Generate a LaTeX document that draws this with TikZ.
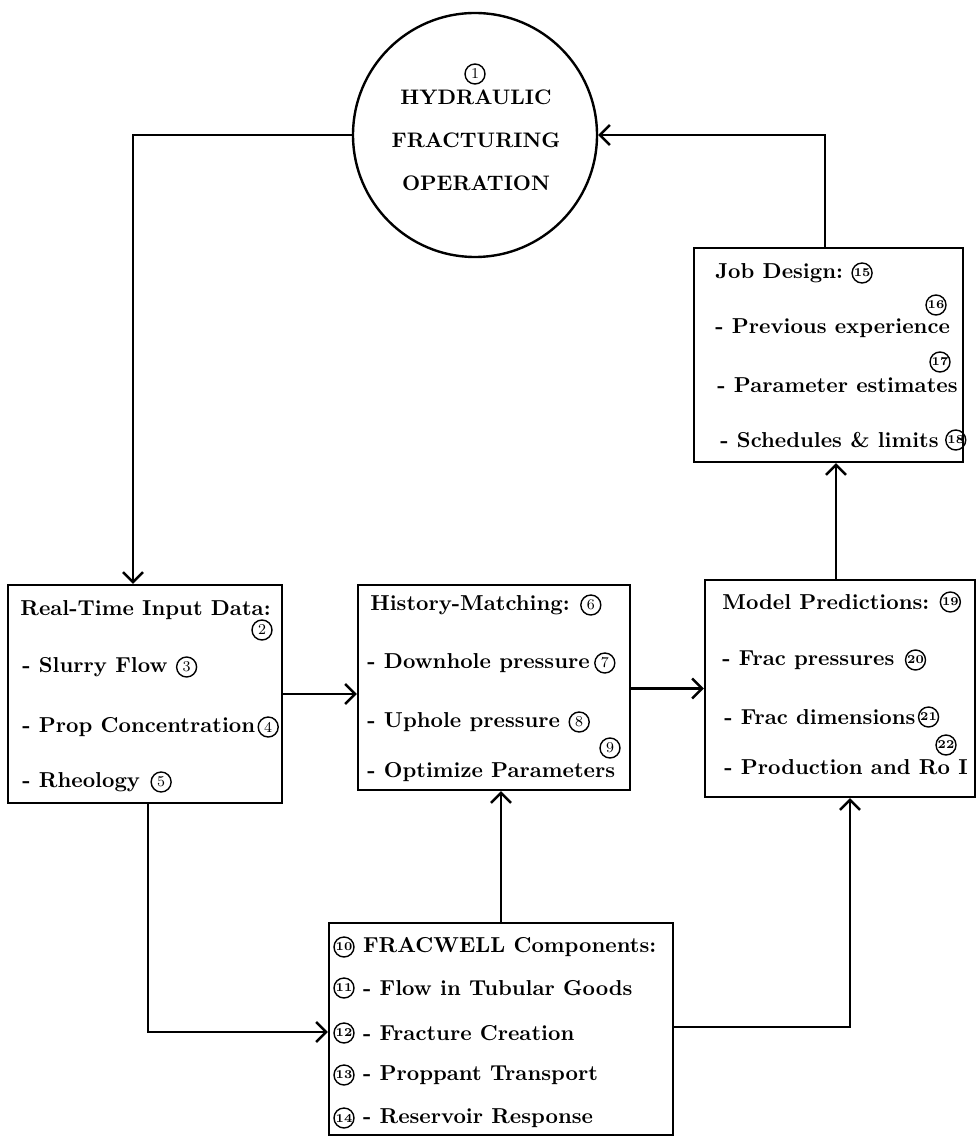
\documentclass[tikz,border=0pt]{standalone}
\usetikzlibrary{positioning,arrows.meta}
\begin{document}
\begin{tikzpicture}[x=0.5pt,y=-0.5pt,>={Straight Barb[length=5pt,width=10pt]},
	box/.style={draw,line width=1.2pt,inner sep=0pt},
	txt/.style={anchor=west,inner sep=0pt,font=\fontsize{10.8}{13}\selectfont\bfseries},
	ctr/.style={inner sep=0pt,font=\fontsize{10.5}{13}\selectfont\bfseries},
	num/.style={circle,draw,line width=0.7pt,inner sep=0pt,minimum size=10pt,font=\fontsize{7.5}{8}\selectfont},
	numb/.style={num,font=\fontsize{6}{6}\selectfont\bfseries},
	link/.style={->,line width=1.2pt}
	]
	\useasboundingbox (0,0) rectangle (979,1138);

	\node[circle,draw,line width=1.2pt,inner sep=0pt,minimum size=122pt] (op) at (475,135) {};
	\node[box,minimum width=137pt,minimum height=109pt] (rt) at (145,694) {};
	\node[box,minimum width=136pt,minimum height=102.5pt] (hm) at (494,687.5) {};
	\node[box,minimum width=135pt,minimum height=108.5pt] (mp) at (840,688.5) {};
	\node[box,minimum width=134.5pt,minimum height=107pt] (jd) at (828.5,355) {};
	\node[box,minimum width=172pt,minimum height=106pt] (fw) at (501,1029) {};

	% operation
	\node[num] (n1) at (475,74) {1};
	\node[ctr] (op1) at (476,97) {HYDRAULIC};
	\node[ctr] (op2) at (476,140) {FRACTURING};
	\node[ctr] (op3) at (476,183) {OPERATION};

	% real-time input data
	\node[txt] (rt0) at (20,610) {Real-Time Input Data:};
	\node[num] (n2) at (262,630) {2};
	\node[txt] (rt1) at (22,667) {- Slurry Flow};
	\node[num,right=4pt of rt1] (n3) {3};
	\node[txt] (rt2) at (22,727) {- Prop Concentration};
	\node[num,right=1pt of rt2] (n4) {4};
	\node[txt] (rt3) at (22,782) {- Rheology};
	\node[num,right=5pt of rt3] (n5) {5};

	% history-matching
	\node[txt] (hm0) at (370,605) {History-Matching:};
	\node[num,right=5pt of hm0] (n6) {6};
	\node[txt] (hm1) at (367,663) {- Downhole pressure};
	\node[num,right=2pt of hm1] (n7) {7};
	\node[txt] (hm2) at (367,722) {- Uphole pressure};
	\node[num,right=4pt of hm2] (n8) {8};
	\node[num] (n9) at (610,748) {9};
	\node[txt] (hm3) at (367,772) {- Optimize Parameters};

	% model predictions
	\node[txt] (mp0) at (722,602) {Model Predictions:};
	\node[numb,right=5pt of mp0] (n19) {19};
	\node[txt] (mp1) at (722,660) {- Frac pressures};
	\node[numb,right=5pt of mp1] (n20) {20};
	\node[txt] (mp2) at (724,717) {- Frac dimensions};
	\node[numb,right=1pt of mp2] (n21) {21};
	\node[numb] (n22) at (946,745) {22};
	\node[txt] (mp3) at (724,767) {- Production and Ro I};

	% job design
	\node[txt] (jd0) at (715,273) {Job Design:};
	\node[numb,right=4pt of jd0] (n15) {15};
	\node[numb] (n16) at (936,305) {16};
	\node[txt] (jd1) at (715,328) {- Previous experience};
	\node[numb] (n17) at (940,362) {17};
	\node[txt] (jd2) at (717,385) {- Parameter estimates};
	\node[txt] (jd3) at (720,440) {- Schedules \& limits};
	\node[numb,right=3pt of jd3] (n18) {18};

	% fracwell components
	\node[numb] (n10) at (344,947) {10};
	\node[txt,right=4pt of n10] (fw0) {FRACWELL Components:};
	\node[numb] (n11) at (344,988) {11};
	\node[txt,right=4pt of n11] (fw1) {- Flow in Tubular Goods};
	\node[numb] (n12) at (344,1033) {12};
	\node[txt,right=4pt of n12] (fw2) {- Fracture Creation};
	\node[numb] (n13) at (344,1075) {13};
	\node[txt,right=4pt of n13] (fw3) {- Proppant Transport};
	\node[numb] (n14) at (344,1118) {14};
	\node[txt,right=4pt of n14] (fw4) {- Reservoir Response};

	\coordinate (c1) at (133,135);
	\coordinate (c2) at (825,135);
	\coordinate (c3) at (836,0);
	\coordinate (c4) at (148,1032);
	\coordinate (c5) at (850,1027);

	\draw[link] (op.west) -- (c1) -- (c1 |- rt.north);
	\draw[link] (c2 |- jd.north) -- (c2) -- (op.east);
	\draw[link] (rt.east) -- (rt.east -| hm.west);
	\draw[link] (hm.east |- mp.west) -- (mp.west);
	\draw[link] (fw.north) -- (fw.north |- hm.south);
	\draw[link] (c3 |- mp.north) -- (c3 |- jd.south);
	\draw[link] (c4 |- rt.south) |- (fw.west |- c4);
	\draw[link] (fw.east |- c5) -| (c5 |- mp.south);

\end{tikzpicture}
\end{document}
